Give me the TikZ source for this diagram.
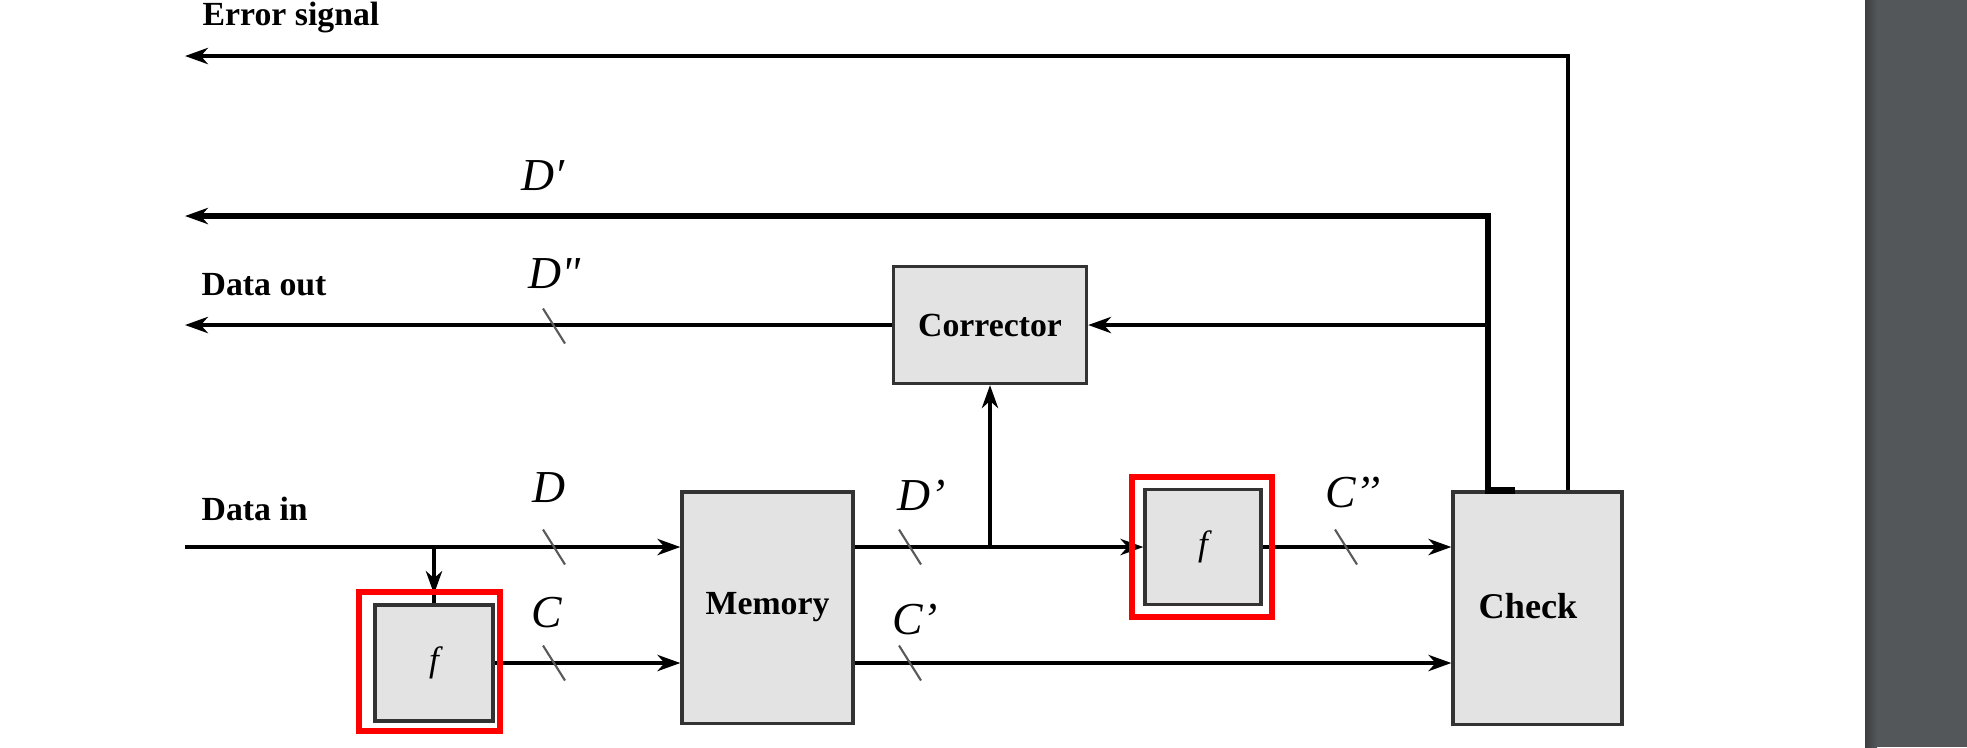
\documentclass[tikz,border=0pt]{standalone}
\usepackage{fontspec}
\setmainfont{Liberation Serif}
\newfontfamily\symfont{Liberation Serif}[Ligatures=TeXOff]
\usetikzlibrary{arrows.meta}
\definecolor{boxfill}{HTML}{E3E3E3}
\definecolor{boxline}{HTML}{333333}
\definecolor{panel}{HTML}{53575A}
\definecolor{paneledge}{HTML}{3C3F42}
\definecolor{hlred}{HTML}{FF0000}
\begin{document}
\begin{tikzpicture}[x=0.01cm,y=-0.01cm,
  conn/.style={line width=1.1pt,draw=black},
  thickconn/.style={line width=1.9pt,draw=black,line join=miter},
  arr/.style={-{Stealth[length=6.5pt,width=4.6pt,inset=2pt]}},
  block/.style={draw=boxline,line width=0.9pt,fill=boxfill,inner sep=0pt,
    font=\fontsize{9.6}{11}\selectfont\bfseries},
  hl/.style={draw=hlred,line width=1.7pt,inner sep=0pt},
  lbl/.style={font=\fontsize{9.6}{11}\selectfont\bfseries,inner sep=0pt,anchor=base west},
  sym/.style={font=\symfont\fontsize{13}{15}\selectfont\itshape,inner sep=0pt,anchor=base},
  fn/.style={font=\fontsize{10}{12}\selectfont\itshape,inner sep=0pt},
  tick/.style={draw=black!65,line width=0.6pt}]

\useasboundingbox (0,0) rectangle (1967,747);
\fill[white] (0,0) rectangle (1967,747);

% side panel
\fill[panel] (1865,0) rectangle (1967,747);
\shade[left color=paneledge,right color=panel] (1865,0) rectangle (1877,747);

% blocks
\node[block,minimum width=1.93cm,minimum height=1.17cm] (cor) at (990,325) {Corrector};
\node[block,minimum width=1.71cm,minimum height=2.31cm] (mem) at (767.5,607.5) {Memory};
\node[block,minimum width=1.18cm,minimum height=1.16cm] (fa) at (434,663) {};
\node[fn] (fat) at (fa.center) {f};
\node[block,minimum width=1.16cm,minimum height=1.15cm] (fb) at (1203,547) {};
\node[fn] (fbt) at (fb.center) {f};
\node[block,minimum width=1.69cm,minimum height=2.32cm] (chk) at (1537.5,608) {};
\node[font=\fontsize{10.3}{12}\selectfont\bfseries,inner sep=0pt] (chkt) at (1528,606) {Check};

% free ends and bends
\coordinate (errL) at (185,56);
\coordinate (errX) at (1568,0);
\coordinate (dpL) at (185,216);
\coordinate (dpX) at (1488,0);
\coordinate (dpT) at (1515,0);
\coordinate (outL) at (185,0);
\coordinate (inL) at (185,547);
\coordinate (br) at (434,547);

% error signal
\draw[conn,arr] (chk.north -| errX) |- (errL);
% uncorrected data
\draw[thickconn,arr] (chk.north -| dpT) -- (chk.north -| dpX) |- (dpL);
% syndrome into corrector
\draw[conn,arr] (cor.east -| dpX) -- (cor.east);
% data out
\draw[conn,arr] (cor.west) -- (cor.west -| outL);
% data in
\draw[conn,arr] (inL) -- (inL -| mem.west);
\draw[conn,arr] (br) -- (br |- 0,594);
\draw[conn] (br |- 0,594) -- (fa.north);
% code bits into memory
\draw[conn,arr] (fa.east) -- (fa.east -| mem.west);
% memory outputs
\draw[conn,arr] (mem.east |- fb.west) -- (fb.west);
\draw[conn,arr] (cor.south |- fb.west) -- (cor.south);
\draw[conn,arr] (fb.east) -- (fb.east -| chk.west);
\draw[conn,arr] (mem.east |- fa.east) -- (chk.west |- fa.east);

% bus width marks
\foreach \n/\x/\y in {sD/554/547, sC/554/663, sDo/554/326, sDp/910/547, sCp/910/663, sCc/1346/547}{
  \coordinate (\n) at (\x,\y);
  \draw[tick] ([shift={(-11,-17.5)}]\n) -- ([shift={(11,17.5)}]\n);
}

% highlight frames
\node[hl,minimum width=1.405cm,minimum height=1.385cm] (hla) at (429.75,661.25) {};
\node[hl,minimum width=1.40cm,minimum height=1.40cm] (hlb) at (1202,547) {};

% signal names
\node[sym] (lDt) at (543,190) {D′};
\node[sym] (lDo) at (555,288) {D"};
\node[sym] (lD) at (549,502) {D};
\node[sym] (lC) at (547,627) {C};
\node[sym] (lDp) at (922,510) {D’};
\node[sym] (lCp) at (915,634) {C’};
\node[sym] (lCc) at (1353,507) {C’’};

% port names
\node[lbl] (terr) at (202,25) {Error signal};
\node[lbl] (tout) at (201,295) {Data out};
\node[lbl] (tin) at (201,520) {Data in};
\end{tikzpicture}
\end{document}
